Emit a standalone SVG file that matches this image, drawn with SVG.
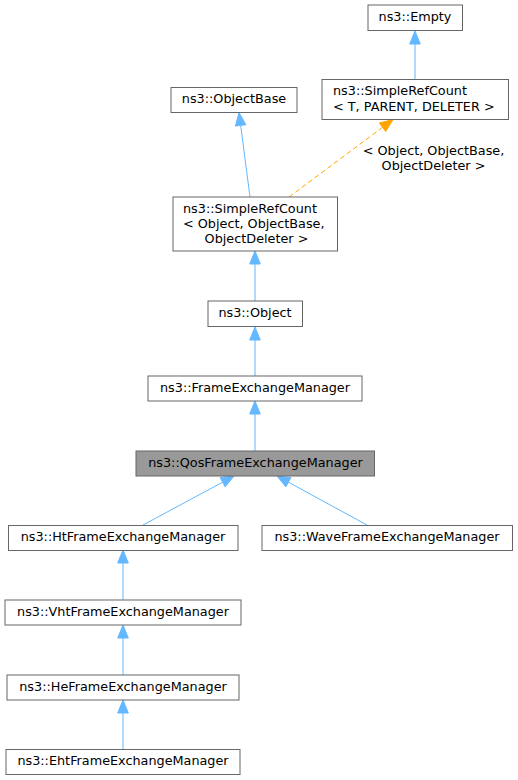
<svg xmlns="http://www.w3.org/2000/svg" width="518" height="780" viewBox="0 0 518 780">
<style>
.box{fill:#ffffff;stroke:#666666;stroke-width:1}
.cur{fill:#999999;stroke:#666666;stroke-width:1}
text{font-family:"DejaVu Sans",sans-serif;font-size:12.8px;fill:#000000}
.c{text-anchor:middle}
.e{fill:none;stroke:#63b8ff;stroke-width:1}
.ah{fill:#63b8ff;stroke:#63b8ff;stroke-width:1}
.o{fill:none;stroke:#ffa500;stroke-width:1;stroke-dasharray:5,3}
.oh{fill:#ffa500;stroke:#ffa500;stroke-width:1}
</style>
<rect width="518" height="780" fill="#ffffff"/>
<g id="connectors">
<line class="e" x1="415" y1="79" x2="415" y2="44"/><polygon class="ah" points="409.7,44 415,31 420.3,44"/>
<line class="e" x1="250" y1="197" x2="240.7" y2="125.4"/><polygon class="ah" points="245.9,124.7 239,112.5 235.4,126.1"/>
<line class="o" x1="289" y1="197" x2="382.6" y2="127.3"/><polygon class="oh" points="385.7,131.5 393,119.5 379.4,123"/>
<text class="c" x="433.5" y="155">&lt; Object, ObjectBase,</text>
<text class="c" x="433.5" y="170">ObjectDeleter &gt;</text>
<line class="e" x1="255" y1="301" x2="255" y2="264"/><polygon class="ah" points="249.7,264 255,251 260.3,264"/>
<line class="e" x1="255" y1="376" x2="255" y2="340"/><polygon class="ah" points="249.7,340 255,327 260.3,340"/>
<line class="e" x1="255" y1="451" x2="255" y2="414"/><polygon class="ah" points="249.7,414 255,401 260.3,414"/>
<line class="e" x1="143" y1="525" x2="222.6" y2="482.2"/><polygon class="ah" points="225.1,486.8 234,476 220.1,477.5"/>
<line class="e" x1="367" y1="525" x2="288.4" y2="482.2"/><polygon class="ah" points="290.9,477.6 277,476 285.9,486.9"/>
<line class="e" x1="123" y1="600" x2="123" y2="563"/><polygon class="ah" points="117.7,563 123,550 128.3,563"/>
<line class="e" x1="123" y1="675" x2="123" y2="638"/><polygon class="ah" points="117.7,638 123,625 128.3,638"/>
<line class="e" x1="123" y1="749" x2="123" y2="713"/><polygon class="ah" points="117.7,713 123,700 128.3,713"/>
</g>
<g id="node-empty"><rect class="box" x="368" y="5" width="94.5" height="25.5"/><text class="c" x="415" y="21">ns3::Empty</text></g>
<g id="node-src-t"><rect class="box" x="322" y="79.5" width="186.5" height="40"/><text x="333" y="95">ns3::SimpleRefCount</text><text x="333" y="110.5">&lt; T, PARENT, DELETER &gt;</text></g>
<g id="node-objectbase"><rect class="box" x="171" y="87.5" width="126" height="25"/><text class="c" x="234" y="103">ns3::ObjectBase</text></g>
<g id="node-src-object"><rect class="box" x="173" y="197" width="164.5" height="54"/><text x="183" y="212.5">ns3::SimpleRefCount</text><text x="183" y="227.5">&lt; Object, ObjectBase,</text><text class="c" x="256.5" y="242.5">ObjectDeleter &gt;</text></g>
<g id="node-object"><rect class="box" x="208" y="301" width="94.5" height="25.5"/><text class="c" x="255" y="317">ns3::Object</text></g>
<g id="node-fem"><rect class="box" x="148" y="376" width="214" height="25"/><text class="c" x="255" y="392">ns3::FrameExchangeManager</text></g>
<g id="node-qos"><rect class="cur" x="136" y="451" width="238.5" height="25"/><text class="c" x="255.5" y="467">ns3::QosFrameExchangeManager</text></g>
<g id="node-ht"><rect class="box" x="8.5" y="525.5" width="229.5" height="25"/><text class="c" x="123" y="541">ns3::HtFrameExchangeManager</text></g>
<g id="node-wave"><rect class="box" x="262" y="525.5" width="250.5" height="25"/><text class="c" x="387" y="541">ns3::WaveFrameExchangeManager</text></g>
<g id="node-vht"><rect class="box" x="5" y="600" width="236" height="25"/><text class="c" x="123" y="616">ns3::VhtFrameExchangeManager</text></g>
<g id="node-he"><rect class="box" x="7" y="675" width="232" height="25"/><text class="c" x="123" y="691">ns3::HeFrameExchangeManager</text></g>
<g id="node-eht"><rect class="box" x="6" y="749.5" width="234" height="25"/><text class="c" x="123" y="765">ns3::EhtFrameExchangeManager</text></g>
</svg>
